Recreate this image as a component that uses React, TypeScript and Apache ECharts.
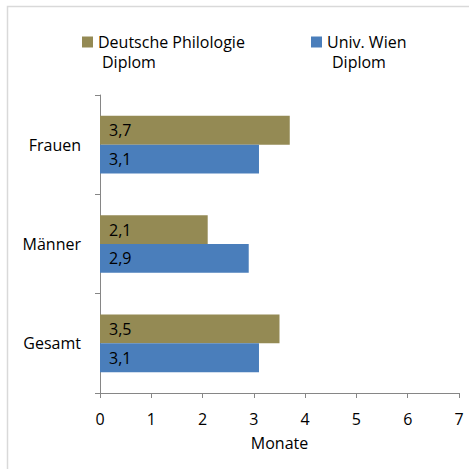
import React, { useEffect, useRef } from "react";
import * as echarts from "echarts";

const categories = ["Gesamt", "Männer", "Frauen"];
const philologieValues = [3.5, 2.1, 3.7];
const wienValues = [3.1, 2.9, 3.1];
const seriesNames = ["Deutsche Philologie", "Univ. Wien"];
const seriesSubNames = ["Diplom", "Diplom"];
const xTicks = [0, 1, 2, 3, 4, 5, 6, 7];

const FONT = "'Open Sans', sans-serif";
const FS = 16;

export default function App() {
  const ref = useRef<HTMLDivElement>(null);
  useEffect(() => {
    if (!ref.current) return;
    const chart = echarts.init(ref.current, null, { renderer: "svg" });
    const labelCfg = {
      show: true,
      position: "insideLeft",
      distance: 9,
      color: "#000",
      fontFamily: FONT,
      fontSize: FS,
      formatter: (p: any) => String(p.value).replace(".", ","),
    };
    const legendCfg = (i: number, left: number) => ({
      data: [seriesNames[i]],
      left,
      top: 31,
      padding: 0,
      itemWidth: 11,
      itemHeight: 11,
      itemGap: 0,
      icon: "rect",
      textStyle: { fontFamily: FONT, fontSize: FS, color: "#000", lineHeight: 22 },
    });
    chart.setOption({
      animation: false,
      backgroundColor: "#fff",
      textStyle: { fontFamily: FONT },
      graphic: [
        {
          type: "rect",
          shape: { x: 7.5, y: 6.5, width: 500, height: 500 },
          style: { fill: "none", stroke: "#d9d9d9", lineWidth: 1.5 },
          silent: true,
        },
        {
          type: "text",
          left: 102,
          top: 54,
          style: { text: seriesSubNames[0], fontFamily: FONT, fontSize: FS, fill: "#000" },
        },
        {
          type: "text",
          left: 332,
          top: 54,
          style: { text: seriesSubNames[1], fontFamily: FONT, fontSize: FS, fill: "#000" },
        },
      ],
      legend: [legendCfg(0, 82), legendCfg(1, 311)],
      grid: { left: 100, right: 10, top: 95, bottom: 76, containLabel: false },
      xAxis: {
        type: "value",
        min: xTicks[0],
        max: xTicks[xTicks.length - 1],
        interval: 1,
        name: "Monate",
        nameLocation: "middle",
        nameGap: 42,
        nameTextStyle: { fontFamily: FONT, fontSize: FS, color: "#000" },
        axisLine: { show: true, lineStyle: { color: "#868686", width: 1 } },
        axisTick: { show: true, length: 5, lineStyle: { color: "#868686" } },
        axisLabel: { margin: 18, fontFamily: FONT, fontSize: FS, color: "#000" },
        splitLine: { show: false },
      },
      yAxis: {
        type: "category",
        data: categories,
        axisLine: { show: true, lineStyle: { color: "#868686", width: 1 } },
        axisTick: { show: true, length: 5, alignWithLabel: false, lineStyle: { color: "#868686" } },
        axisLabel: { margin: 19, fontFamily: FONT, fontSize: FS, color: "#000" },
      },
      series: [
        {
          name: seriesNames[0],
          type: "bar",
          data: philologieValues,
          itemStyle: { color: "#948A54" },
          barGap: "0%",
          barCategoryGap: "42%",
          label: labelCfg,
        },
        {
          name: seriesNames[1],
          type: "bar",
          data: wienValues,
          itemStyle: { color: "#4A7EBB" },
          barGap: "0%",
          barCategoryGap: "42%",
          label: labelCfg,
        },
      ],
    });
    return () => chart.dispose();
  }, []);
  return (
    <div
      ref={ref}
      style={{ position: "absolute", left: 0, top: 0, width: 469, height: 469 }}
    />
  );
}
